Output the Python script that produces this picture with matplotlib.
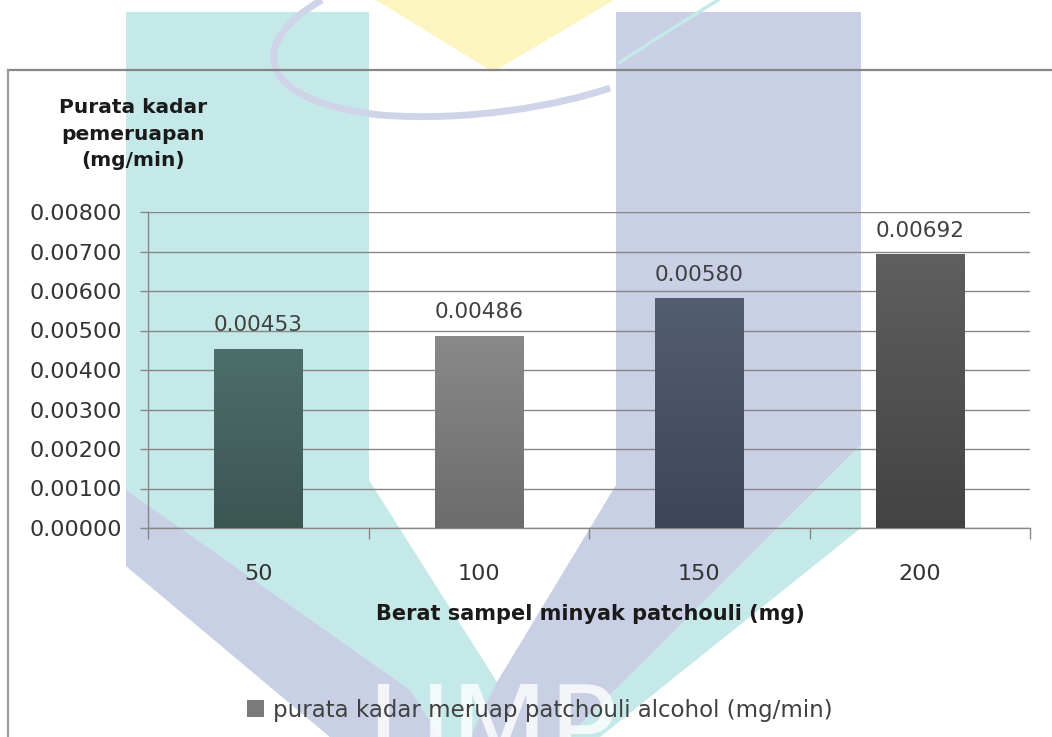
import numpy as np
import matplotlib
matplotlib.use("Agg")
import matplotlib.pyplot as plt
from matplotlib.patches import Polygon, Patch, PathPatch
from matplotlib.path import Path
from matplotlib.colors import LinearSegmentedColormap

# berat sampel (mg) vs purata kadar pemeruapan (mg/min)
categories = ["50", "100", "150", "200"]
rates = [0.00453, 0.00486, 0.00580, 0.00692]
bar_tops = ["#4d6e6b", "#898989", "#535d72", "#5f5f5f"]
bar_bottoms = ["#3c5652", "#6c6c6c", "#3e4558", "#434343"]
yticks = [0.000, 0.001, 0.002, 0.003, 0.004, 0.005, 0.006, 0.007, 0.008]

W, H = 1052, 737
fig = plt.figure(figsize=(W / 100, H / 100), dpi=100)
fig.patch.set_facecolor("white")

# background logo layer, pixel coordinates
bg = fig.add_axes([0, 0, 1, 1], zorder=0)
bg.set_xlim(0, W)
bg.set_ylim(H, 0)
bg.axis("off")

teal = "#c5e9e8"
lav = "#c9d0e5"
yellow = "#fdf5c0"

bg.add_patch(Polygon([(126, 12), (369, 12), (369, 480), (497, 682),
                      (560, 737), (330, 737), (126, 566)],
                     closed=True, fc=teal, ec="none"))
bg.add_patch(Polygon([(126, 490), (410, 690), (440, 737), (330, 737),
                      (126, 566)], closed=True, fc=lav, ec="none"))
bg.add_patch(Polygon([(616, 12), (861, 12), (861, 445), (568, 737),
                      (470, 737), (497, 682), (616, 485)],
                     closed=True, fc=lav, ec="none"))
bg.add_patch(Polygon([(861, 445), (861, 528), (600, 737), (568, 737)],
                     closed=True, fc=teal, ec="none"))
bg.add_patch(Polygon([(376, 0), (614, 0), (493, 72)], closed=True,
                     fc=yellow, ec="none"))

swoosh = Path([(322, 0), (250, 40), (250, 100), (380, 115),
               (470, 122), (560, 105), (610, 88)],
              [Path.MOVETO, Path.CURVE4, Path.CURVE4, Path.CURVE4,
               Path.CURVE4, Path.CURVE4, Path.CURVE4])
bg.add_patch(PathPatch(swoosh, fc="none", ec="#cfd4e9", lw=5))
bg.plot([718, 670, 620], [0, 30, 62], color=teal, lw=2.5)

bg.text(492, 680, "UMP", color="white", alpha=0.8, fontsize=82,
        ha="center", va="top", family="DejaVu Sans")

# outer chart frame
bg.plot([8, W], [70, 70], color="#858585", lw=1.6, zorder=5)
bg.plot([8, 8], [70, H], color="#9a9a9a", lw=1.6, zorder=5)

# chart
ax = fig.add_axes([148 / W, 1 - 528 / H, (1030 - 148) / W, (528 - 212) / H],
                  zorder=1)
ax.patch.set_alpha(0)

x = np.arange(len(categories))
bw = 0.4
ymax = 0.008
for i, (v, ct, cb) in enumerate(zip(rates, bar_tops, bar_bottoms)):
    cmap = LinearSegmentedColormap.from_list("b%d" % i, [cb, ct])
    grad = np.linspace(0, 1, 256).reshape(-1, 1)
    ax.imshow(grad, extent=(x[i] - bw / 2, x[i] + bw / 2, 0, v),
              cmap=cmap, aspect="auto", origin="lower", zorder=3)
    ax.annotate(f"{v:.5f}", (x[i], v), xytext=(0, 17),
                textcoords="offset points", ha="center", va="center",
                fontsize=15.5, color="#404040")

ax.set_xlim(-0.5, len(categories) - 0.5)
ax.set_ylim(0, ymax)

ax.set_yticks(yticks)
ax.set_yticklabels([f"{t:.5f}" for t in yticks], fontsize=16,
                   color="#333333")
ax.tick_params(axis="y", direction="out", length=6, width=1,
               color="#878787", pad=13)
ax.yaxis.grid(True, color="#878787", lw=1)
ax.set_axisbelow(True)

ax.set_xticks(x)
ax.set_xticklabels(categories, fontsize=16, color="#333333")
ax.tick_params(axis="x", which="major", length=0, pad=26)
ax.set_xticks(np.arange(len(categories) + 1) - 0.5, minor=True)
ax.tick_params(axis="x", which="minor", direction="out", length=8,
               width=1, color="#878787")

for side in ["top", "right"]:
    ax.spines[side].set_visible(False)
for side in ["left", "bottom"]:
    ax.spines[side].set_color("#878787")
    ax.spines[side].set_linewidth(1)

fig.text(133 / W, 1 - 98 / H, "Purata kadar\npemeruapan\n(mg/min)",
         ha="center", va="top", fontsize=14.5, fontweight="bold",
         color="#1a1a1a", linespacing=1.5)
fig.text(590 / W, 1 - 614 / H, "Berat sampel minyak patchouli (mg)",
         ha="center", va="center", fontsize=15, fontweight="bold",
         color="#1a1a1a")

handle = Patch(facecolor="#7a7a7a", edgecolor="none")
fig.legend([handle], ["purata kadar meruap patchouli alcohol (mg/min)"],
           loc="center", bbox_to_anchor=(540 / W, 1 - 710 / H),
           frameon=False, fontsize=16.5, handlelength=0.75,
           handleheight=0.75, handletextpad=0.4, labelcolor="#404040")

fig.savefig("out.png", dpi=100, facecolor="white")
